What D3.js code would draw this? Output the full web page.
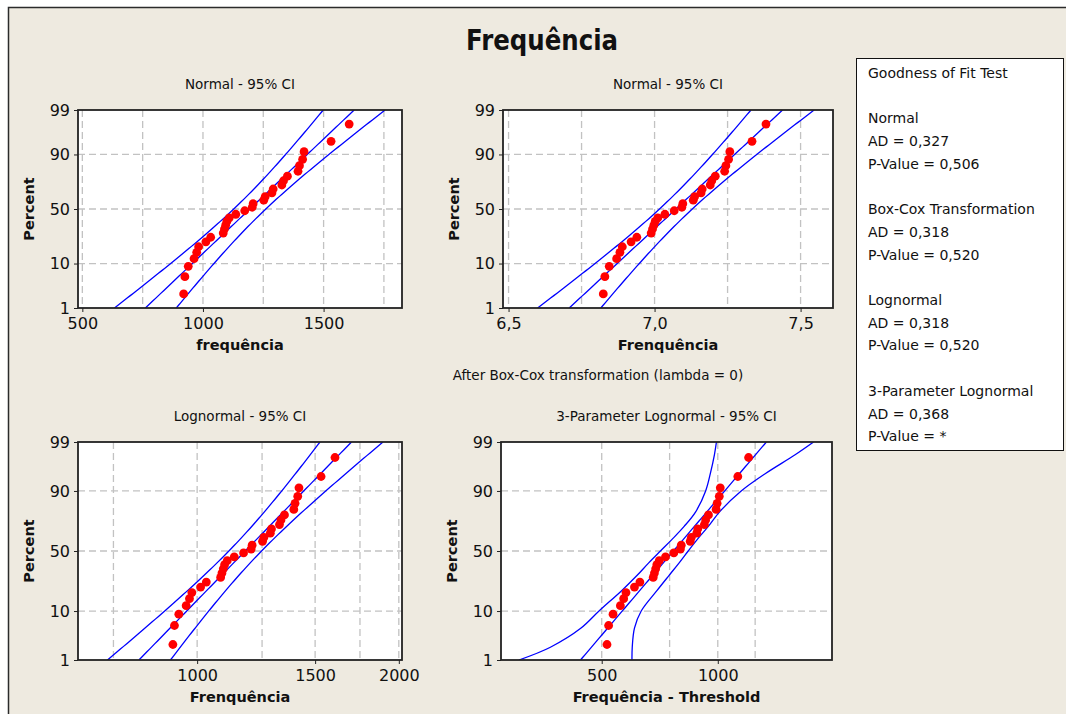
<!DOCTYPE html>
<html>
<head>
<meta charset="utf-8">
<script src="https://cdn.jsdelivr.net/npm/d3@7"></script>
<style>
body { margin: 0; background: #fff; }
text { font-family: "DejaVu Sans", Tahoma, sans-serif; fill: #111; }
</style>
</head>
<body>
<script>
var width = 1066, height = 714;

var frequencia = [920, 925, 939, 963, 974, 982, 1012, 1032, 1084, 1089,
                  1094, 1099, 1109, 1136, 1173, 1204, 1208, 1252, 1258, 1286,
                  1291, 1327, 1334, 1350, 1394, 1400, 1413, 1419, 1531, 1606];
// plotted percent of each point
var percent = [2.30, 5.59, 8.88, 12.17, 15.46, 18.75, 22.04, 25.33, 28.62, 31.91,
               35.20, 38.49, 41.78, 45.07, 48.36, 51.64, 54.93, 58.22, 61.51, 64.80,
               68.09, 71.38, 74.67, 77.96, 81.25, 84.54, 87.83, 91.12, 94.41, 97.70];
var percentTicks = [1, 10, 50, 90, 99];
var percentGrid = [10, 50, 90];

// fitted parameters
var sampleSize = 30;
var normalFit = [1194, 186];        // mean, stdev
var lognormalFit = [7.073, 0.157];  // location, scale
var threshold = 404;
var lognormal3Fit = [6.643, 0.2386];

// 3-parameter CI bands, read at these percents (value - threshold)
var band3Pct = [1, 2, 5, 10, 20, 30, 40, 50, 60, 70, 80, 90, 95, 98, 99];
var band3Left = [305, 368, 442, 492, 564, 617, 662, 710, 762, 818, 877, 930, 956, 980, 992];
var band3Right = [599, 600, 608, 633, 696, 747, 794, 838, 886, 945, 1012, 1150, 1324, 1587, 1772];

var panelTitles = ["Normal - 95% CI", "Normal - 95% CI", "Lognormal - 95% CI", "3-Parameter Lognormal - 95% CI"];
var xTitles = ["frequência", "Frenquência", "Frenquência", "Frequência - Threshold"];
var xTicks = [[500, 1000, 1500], [6.5, 7.0, 7.5], [1000, 1500, 2000], [500, 1000]];
var xGrid = [[500, 750, 1000, 1250, 1500, 1750], [6.5, 6.75, 7.0, 7.25, 7.5],
             [750, 1000, 1250, 1500, 1750, 2000], [500, 750, 1000, 1250]];
var xDomains = [[482, 1825], [6.481, 7.611], [664, 2022], [274, 1978]];

var legendLines = ["Goodness of Fit Test", "", "Normal", "AD = 0,327", "P-Value = 0,506", "",
                   "Box-Cox Transformation", "AD = 0,318", "P-Value = 0,520", "",
                   "Lognormal", "AD = 0,318", "P-Value = 0,520", "",
                   "3-Parameter Lognormal", "AD = 0,368", "P-Value = *"];

// layout of the plot boxes
var boxes = [
  {x: 78, y: 110, w: 324, h: 198, log: false},
  {x: 503, y: 110, w: 330, h: 198, log: false},
  {x: 78, y: 442, w: 324, h: 218, log: true},
  {x: 501, y: 442, w: 331, h: 218, log: true}
];

// inverse normal cdf (Acklam)
function qnorm(p) {
  var a = [-39.6968302866538, 220.946098424521, -275.928510446969, 138.357751867269, -30.6647980661472, 2.50662827745924];
  var b = [-54.4760987982241, 161.585836858041, -155.698979859887, 66.8013118877197, -13.2806815528857];
  var c = [-0.00778489400243029, -0.322396458041136, -2.40075827716184, -2.54973253934373, 4.37466414146497, 2.93816398269878];
  var d = [0.00778469570904146, 0.32246712907004, 2.445134137143, 3.75440866190742];
  var q, r;
  if (p < 0.02425) {
    q = Math.sqrt(-2 * Math.log(p));
    return (((((c[0]*q+c[1])*q+c[2])*q+c[3])*q+c[4])*q+c[5]) / ((((d[0]*q+d[1])*q+d[2])*q+d[3])*q+1);
  }
  if (p > 1 - 0.02425) {
    q = Math.sqrt(-2 * Math.log(1 - p));
    return -(((((c[0]*q+c[1])*q+c[2])*q+c[3])*q+c[4])*q+c[5]) / ((((d[0]*q+d[1])*q+d[2])*q+d[3])*q+1);
  }
  q = p - 0.5; r = q * q;
  return (((((a[0]*r+a[1])*r+a[2])*r+a[3])*r+a[4])*r+a[5])*q / (((((b[0]*r+b[1])*r+b[2])*r+b[3])*r+b[4])*r+1);
}

var svg = d3.select("body").append("svg")
    .attr("width", width)
    .attr("height", height);

// background frame
svg.append("rect")
    .attr("x", 8.5).attr("y", 7.5)
    .attr("width", width + 10).attr("height", height + 10)
    .attr("fill", "#EEEAE0")
    .attr("stroke", "#2b2b2b")
    .attr("stroke-width", 1.5);

svg.append("text")
    .attr("x", 542).attr("y", 50)
    .attr("text-anchor", "middle")
    .attr("font-size", 28).attr("font-weight", "bold")
    .attr("textLength", 152).attr("lengthAdjust", "spacingAndGlyphs")
    .text("Frequência");

svg.append("text")
    .attr("x", 598).attr("y", 380)
    .attr("text-anchor", "middle")
    .attr("font-size", 13.5)
    .text("After Box-Cox transformation (lambda = 0)");

// legend box
var legend = svg.append("g");
legend.append("rect")
    .attr("x", 856.5).attr("y", 58.5)
    .attr("width", 207).attr("height", 392)
    .attr("fill", "#fff").attr("stroke", "#111").attr("stroke-width", 1);
legend.selectAll("text").data(legendLines).enter().append("text")
    .attr("x", 868)
    .attr("y", function(d, i) { return 78 + i * 22.7; })
    .attr("font-size", 14)
    .text(function(d) { return d; });

var zLo = qnorm(0.01), zHi = qnorm(0.99);
var zs = d3.range(0, 81).map(function(i) { return zLo + i * (zHi - zLo) / 80; });

boxes.forEach(function(b, k) {
  var g = svg.append("g");
  var x = (b.log ? d3.scaleLog() : d3.scaleLinear()).domain(xDomains[k]).range([b.x, b.x + b.w]);
  var y = d3.scaleLinear().domain([zLo, zHi]).range([b.y + b.h, b.y]);
  var yp = function(p) { return y(qnorm(p / 100)); };

  g.append("rect")
      .attr("x", b.x).attr("y", b.y).attr("width", b.w).attr("height", b.h)
      .attr("fill", "#fff");

  g.append("clipPath").attr("id", "clip" + k).append("rect")
      .attr("x", b.x).attr("y", b.y).attr("width", b.w).attr("height", b.h);

  // grid
  g.selectAll(".gx").data(xGrid[k]).enter().append("line")
      .attr("x1", function(d) { return x(d); }).attr("x2", function(d) { return x(d); })
      .attr("y1", b.y).attr("y2", b.y + b.h)
      .attr("stroke", "#c2c2c2").attr("stroke-width", 1.3).attr("stroke-dasharray", "7,4");
  g.selectAll(".gy").data(percentGrid).enter().append("line")
      .attr("x1", b.x).attr("x2", b.x + b.w)
      .attr("y1", yp).attr("y2", yp)
      .attr("stroke", "#c2c2c2").attr("stroke-width", 1.3).attr("stroke-dasharray", "7,4");

  // fit line and CI bands
  var line = d3.line().x(function(d) { return x(d[0]); }).y(function(d) { return y(d[1]); });
  var fitPts, loPts, hiPts;
  if (k < 3) {
    var m = k == 0 ? normalFit[0] : lognormalFit[0];
    var s = k == 0 ? normalFit[1] : lognormalFit[1];
    var tf = k == 2 ? Math.exp : function(v) { return v; };
    fitPts = zs.map(function(z) { return [tf(m + s * z), z]; });
    loPts = zs.map(function(z) { return [tf(m + s * z - 1.96 * s * Math.sqrt(1 / sampleSize + z * z / (2 * sampleSize))), z]; });
    hiPts = zs.map(function(z) { return [tf(m + s * z + 1.96 * s * Math.sqrt(1 / sampleSize + z * z / (2 * sampleSize))), z]; });
  } else {
    fitPts = zs.map(function(z) { return [Math.exp(lognormal3Fit[0] + lognormal3Fit[1] * z), z]; });
    loPts = band3Pct.map(function(p, i) { return [band3Left[i], qnorm(p / 100)]; });
    hiPts = band3Pct.map(function(p, i) { return [band3Right[i], qnorm(p / 100)]; });
  }
  var lines = g.append("g").attr("clip-path", "url(#clip" + k + ")");
  [fitPts, loPts, hiPts].forEach(function(pts, j) {
    lines.append("path")
        .attr("d", (k == 3 && j > 0) ? line.curve(d3.curveCatmullRom)(pts) : line.curve(d3.curveLinear)(pts))
        .attr("fill", "none").attr("stroke", "#0000FF").attr("stroke-width", 1.3);
  });

  // points
  var vals = frequencia.map(function(v) {
    if (k == 1) return Math.log(v);
    if (k == 3) return v - threshold;
    return v;
  });
  g.selectAll("circle").data(vals).enter().append("circle")
      .attr("cx", function(d) { return x(d); })
      .attr("cy", function(d, i) { return yp(percent[i]); })
      .attr("r", 4.4)
      .attr("fill", "#FF0000");

  // frame
  g.append("rect")
      .attr("x", b.x).attr("y", b.y).attr("width", b.w).attr("height", b.h)
      .attr("fill", "none").attr("stroke", "#222").attr("stroke-width", 1.8);

  // axes
  g.append("g")
      .attr("transform", "translate(0," + (b.y + b.h) + ")")
      .call(d3.axisBottom(x).tickValues(xTicks[k]).tickSizeOuter(0).tickSize(4).tickPadding(6)
        .tickFormat(function(d) { return k == 1 ? d3.format(".1f")(d).replace(".", ",") : d; }))
      .call(function(a) {
        a.select(".domain").remove();
        a.selectAll("line").attr("stroke", "#222");
        a.selectAll("text").attr("font-size", 16).attr("fill", "#111").attr("font-family", "DejaVu Sans, sans-serif");
      });
  g.append("g")
      .attr("transform", "translate(" + b.x + ",0)")
      .call(d3.axisLeft(y).tickValues(percentTicks.map(function(p) { return qnorm(p / 100); }))
        .tickSizeOuter(0).tickSize(4).tickPadding(4)
        .tickFormat(function(d, i) { return percentTicks[i]; }))
      .call(function(a) {
        a.select(".domain").remove();
        a.selectAll("line").attr("stroke", "#222");
        a.selectAll("text").attr("font-size", 16).attr("fill", "#111").attr("font-family", "DejaVu Sans, sans-serif");
      });

  // titles
  g.append("text")
      .attr("x", b.x + b.w / 2).attr("y", b.y - 21)
      .attr("text-anchor", "middle").attr("font-size", 13.5)
      .text(panelTitles[k]);
  g.append("text")
      .attr("x", b.x + b.w / 2).attr("y", b.y + b.h + 42)
      .attr("text-anchor", "middle").attr("font-size", 14.5).attr("font-weight", "bold")
      .text(xTitles[k]);
  g.append("text")
      .attr("transform", "translate(" + (b.x - 40) + "," + (b.y + b.h / 2) + ") rotate(-90)")
      .attr("dy", "-0.3em")
      .attr("text-anchor", "middle").attr("font-size", 14.5).attr("font-weight", "bold")
      .text("Percent");
});
</script>
</body>
</html>
